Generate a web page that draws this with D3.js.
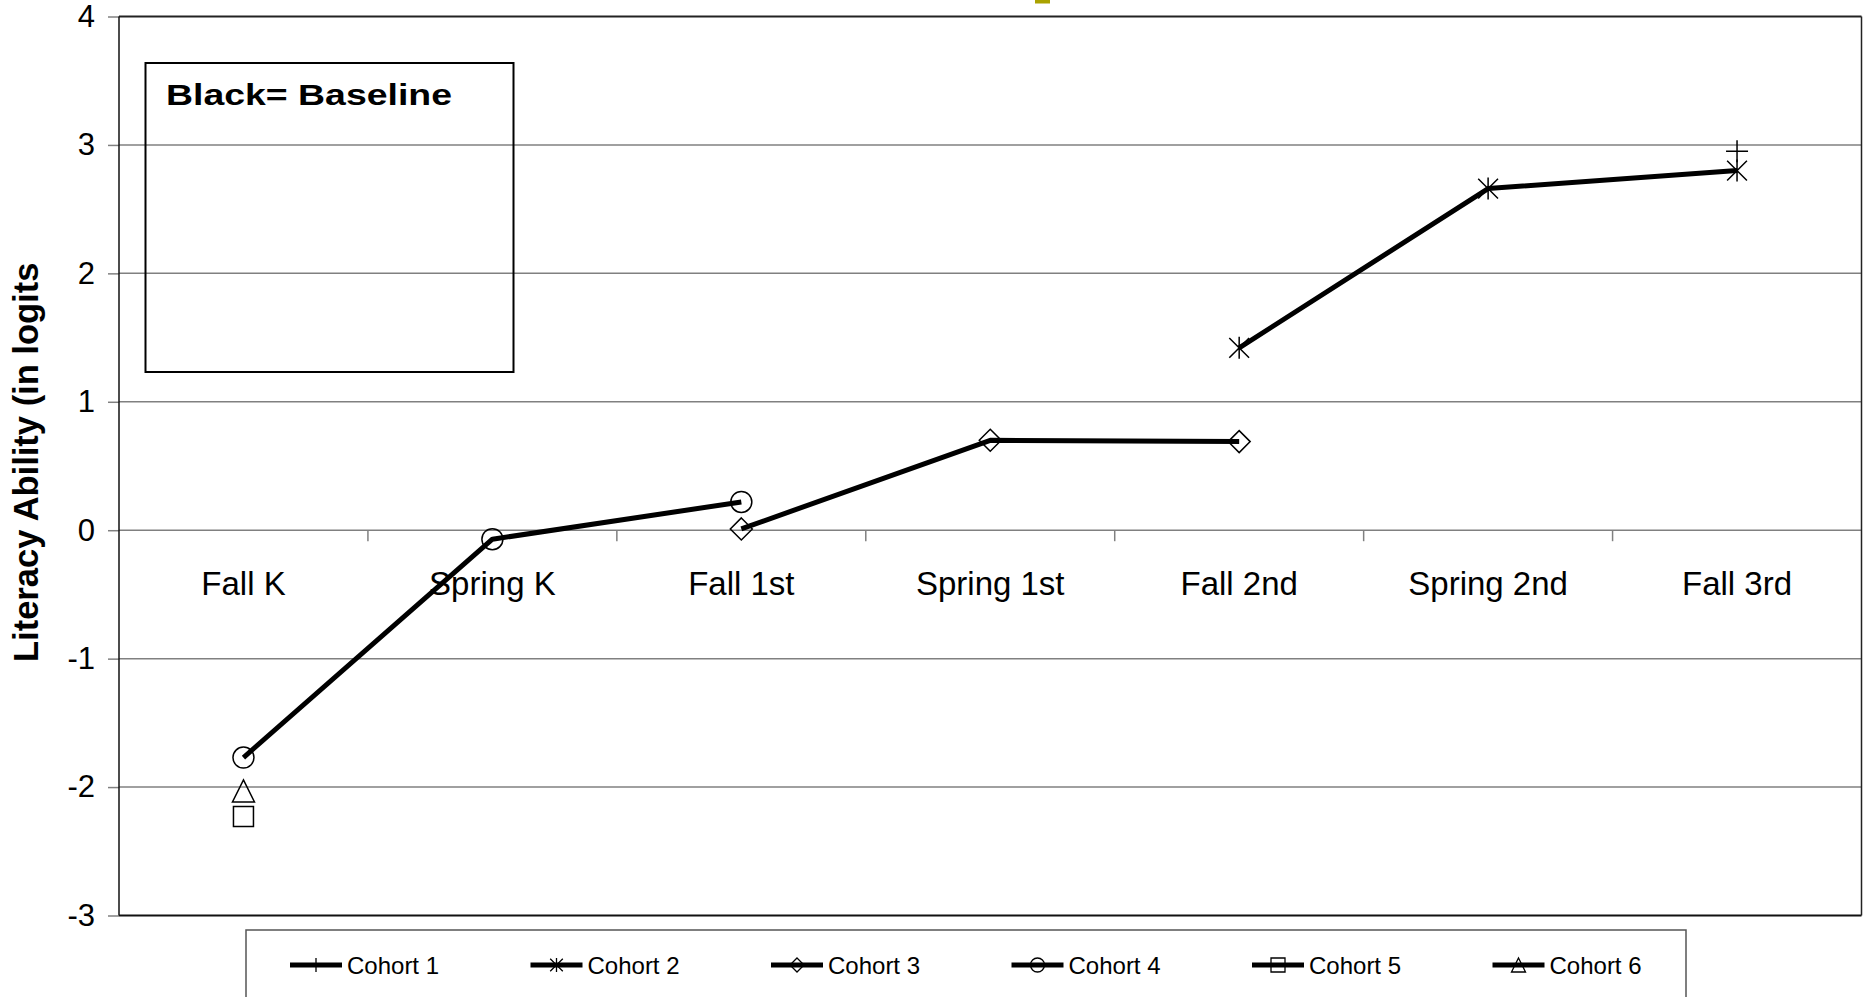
<!DOCTYPE html>
<html>
<head>
<meta charset="utf-8">
<script src="https://cdn.jsdelivr.net/npm/d3@7"></script>
<style>
  html, body { margin: 0; padding: 0; background: #fff; }
  svg { display: block; }
  text { font-family: "Liberation Sans", Arial, sans-serif; }
</style>
</head>
<body>
<svg id="chart" width="1864" height="997"></svg>
<script>
const categories = ["Fall K", "Spring K", "Fall 1st", "Spring 1st", "Fall 2nd", "Spring 2nd", "Fall 3rd"];
const cohort1 = [null, null, null, null, null, null, 2.95];
const cohort2 = [null, null, null, null, 1.42, 2.66, 2.80];
const cohort3 = [null, null, 0.01, 0.70, 0.69, null, null];
const cohort4 = [-1.77, -0.07, 0.22, null, null, null, null];
const cohort5 = [-2.23, null, null, null, null, null, null];
const cohort6 = [-2.03, null, null, null, null, null, null];
const seriesNames = ["Cohort 1", "Cohort 2", "Cohort 3", "Cohort 4", "Cohort 5", "Cohort 6"];
const seriesSymbols = ["plus", "asterisk", "diamond", "circle", "square", "triangle"];
const yTicks = [-3, -2, -1, 0, 1, 2, 3, 4];
const yTitle = "Literacy Ability (in logits";
const noteText = "Black= Baseline";

const series = [cohort1, cohort2, cohort3, cohort4, cohort5, cohort6].map((vals, i) => ({
  name: seriesNames[i], symbol: seriesSymbols[i], values: vals
}));

const svg = d3.select("#chart");
const L = 119, R = 1861.5, T = 16.5, B = 915.5;

const x = d3.scaleBand().domain(categories).range([L, R]).padding(0);
const y = d3.scaleLinear().domain([-3, 4]).range([B, T]);

// title remnant
svg.append("rect").attr("x", 1035).attr("y", 0).attr("width", 15).attr("height", 3.5).attr("fill", "#aaa200");

// gridlines
svg.append("g").selectAll("line").data(yTicks.filter(d => d > -3 && d < 4)).join("line")
  .attr("x1", L).attr("x2", R).attr("y1", d => y(d)).attr("y2", d => y(d))
  .attr("stroke", "#808080").attr("stroke-width", 1.5);

// y axis
const yAxis = d3.axisLeft(y).tickValues(yTicks).tickSize(11).tickPadding(13).tickFormat(d => String(d));
const gy = svg.append("g").attr("transform", `translate(${L},0)`).call(yAxis);
gy.select(".domain").remove();
gy.selectAll(".tick line").attr("stroke", "#808080").attr("stroke-width", 1.5);
gy.selectAll(".tick text").attr("font-size", 31).attr("fill", "#000");

// x axis at y=0 : labels
const xAxis = d3.axisBottom(x).tickSize(0).tickPadding(40);
const gx = svg.append("g").attr("transform", `translate(0,${y(0)})`).call(xAxis);
gx.select(".domain").remove();
gx.selectAll(".tick text").attr("font-size", 33).attr("fill", "#000").attr("dy", 0)
  .attr("y", 65);
// boundary tick marks
svg.append("g").selectAll("line").data(categories.slice(1)).join("line")
  .attr("x1", d => x(d)).attr("x2", d => x(d))
  .attr("y1", y(0)).attr("y2", y(0) + 11)
  .attr("stroke", "#808080").attr("stroke-width", 1.5);

// plot border
svg.append("line").attr("x1", L).attr("x2", R).attr("y1", T).attr("y2", T).attr("stroke", "#222").attr("stroke-width", 2);
svg.append("line").attr("x1", L).attr("x2", R).attr("y1", B).attr("y2", B).attr("stroke", "#111").attr("stroke-width", 2);
svg.append("line").attr("x1", L).attr("x2", L).attr("y1", T).attr("y2", B).attr("stroke", "#111").attr("stroke-width", 1.5);
svg.append("line").attr("x1", R).attr("x2", R).attr("y1", T).attr("y2", B).attr("stroke", "#222").attr("stroke-width", 1.5);

// y title
svg.append("text").attr("transform", `translate(38,662) rotate(-90)`)
  .attr("font-size", 34.5).attr("font-weight", "bold").attr("fill", "#000").text(yTitle);

// note box
svg.append("rect").attr("x", 145.5).attr("y", 63).attr("width", 368).attr("height", 309)
  .attr("fill", "none").attr("stroke", "#000").attr("stroke-width", 2);
svg.append("text").attr("x", 166).attr("y", 104.5).attr("font-size", 30).attr("font-weight", "bold")
  .attr("textLength", 286).attr("lengthAdjust", "spacingAndGlyphs").text(noteText);

function symbolPath(type, s) {
  switch (type) {
    case "plus": return `M${-s},0H${s}M0,${-s}V${s}`;
    case "asterisk": {
      const a = s * 0.9, b = s * 0.9;
      return `M0,${-s}V${s}M${-a},${-b}L${a},${b}M${-a},${b}L${a},${-b}`;
    }
    case "diamond": return `M0,${-s}L${s},0L0,${s}L${-s},0Z`;
    case "circle": return `M${s},0A${s},${s} 0 1,1 ${-s},0A${s},${s} 0 1,1 ${s},0Z`;
    case "square": return `M${-s},${-s}H${s}V${s}H${-s}Z`;
    case "triangle": return `M0,${-s}L${s},${s}H${-s}Z`;
  }
}

const line = d3.line().defined(d => d.v !== null).x(d => x(d.c) + x.bandwidth() / 2).y(d => y(d.v));

series.forEach(s => {
  const pts = s.values.map((v, i) => ({ c: categories[i], v }));
  svg.append("path").datum(pts).attr("d", line).attr("fill", "none")
    .attr("stroke", "#000").attr("stroke-width", 5).attr("stroke-linejoin", "round");
});
series.forEach(s => {
  const pts = s.values.map((v, i) => ({ c: categories[i], v })).filter(d => d.v !== null);
  const size = s.symbol === "circle" ? 10.5 : (s.symbol === "square" ? 10 : 11);
  svg.append("g").selectAll("path").data(pts).join("path")
    .attr("transform", d => `translate(${x(d.c) + x.bandwidth() / 2},${y(d.v)})`)
    .attr("d", symbolPath(s.symbol, size))
    .attr("fill", "none").attr("stroke", "#000").attr("stroke-width", 1.5);
});

// legend
svg.append("rect").attr("x", 246).attr("y", 930).attr("width", 1440).attr("height", 100)
  .attr("fill", "#fff").attr("stroke", "#555").attr("stroke-width", 1.5);
const lg = svg.append("g").selectAll("g").data(series).join("g")
  .attr("transform", (d, i) => `translate(${290 + i * 240.5},965)`);
lg.append("line").attr("x1", 0).attr("x2", 52).attr("y1", 0).attr("y2", 0)
  .attr("stroke", "#000").attr("stroke-width", 5);
lg.append("path").attr("transform", "translate(26,0)")
  .attr("d", d => symbolPath(d.symbol, 7)).attr("fill", "none").attr("stroke", "#000").attr("stroke-width", 1.3);
lg.append("text").attr("x", 57).attr("y", 8.5).attr("font-size", 24).text(d => d.name);
</script>
</body>
</html>
